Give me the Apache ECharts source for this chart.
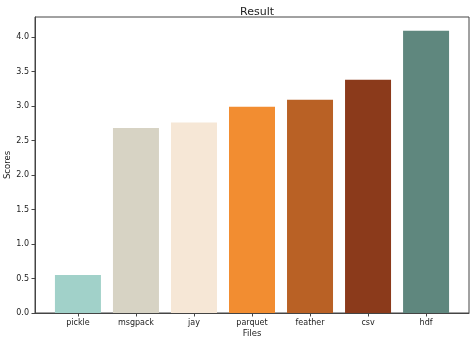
<!DOCTYPE html>
<html>
<head>
<meta charset="utf-8">
<script src="https://cdn.jsdelivr.net/npm/echarts@6/dist/echarts.min.js"></script>
<style>
  html, body { margin: 0; padding: 0; background: #fff; }
  #chart { width: 474px; height: 343px; }
</style>
</head>
<body>
<div id="chart"></div>
<script>
// File formats and their scores
const files = ['pickle', 'msgpack', 'jay', 'parquet', 'feather', 'csv', 'hdf'];
const scores = [0.55, 2.68, 2.76, 2.99, 3.09, 3.38, 4.09];
const barColors = ['#a1d1c9', '#d7d3c4', '#f6e7d6', '#f28d31', '#b96125', '#8b3a1b', '#5f877e'];
const yTicks = [0, 0.5, 1.0, 1.5, 2.0, 2.5, 3.0, 3.5, 4.0];

const positions = files.map((_, i) => i);
const font = 'DejaVu Sans';
const axisColor = '#444';

const chart = echarts.init(document.getElementById('chart'), null, { renderer: 'canvas' });

chart.setOption({
  animation: false,
  title: {
    text: 'Result',
    left: 252, top: 2, textAlign: 'center',
    textStyle: { fontFamily: font, fontSize: 11, fontWeight: 'normal', color: '#222' }
  },
  grid: {
    left: 35, right: 5, top: 17, bottom: 30,
    containLabel: false, outerBoundsMode: 'none',
    show: true, borderColor: axisColor, borderWidth: 1
  },
  xAxis: {
    type: 'value',
    min: -0.74, max: 6.74,
    name: 'Files', nameLocation: 'middle', nameGap: 16, nameMoveOverlap: false,
    nameTextStyle: { fontFamily: font, fontSize: 8.5, color: '#222' },
    splitLine: { show: false },
    axisLine: { show: true, onZero: false, lineStyle: { color: axisColor } },
    axisTick: { show: true, customValues: positions, length: 3.5, lineStyle: { color: axisColor } },
    axisLabel: {
      customValues: positions,
      formatter: v => files[Math.round(v)],
      fontFamily: font, fontSize: 8, color: '#222', margin: 6
    }
  },
  yAxis: {
    type: 'value',
    min: 0, max: 4.29,
    name: 'Scores', nameLocation: 'middle', nameGap: 27, nameRotate: 90, nameMoveOverlap: false,
    nameTextStyle: { fontFamily: font, fontSize: 8.5, color: '#222', verticalAlign: 'middle' },
    splitLine: { show: false },
    axisLine: { show: true, onZero: false, lineStyle: { color: axisColor } },
    axisTick: { show: true, customValues: yTicks, length: 3.5, lineStyle: { color: axisColor } },
    axisLabel: {
      customValues: yTicks,
      formatter: v => v.toFixed(1),
      fontFamily: font, fontSize: 8, color: '#222', margin: 6
    }
  },
  series: [{
    type: 'bar',
    barWidth: 46,
    data: scores.map((s, i) => ({ value: [i, s], itemStyle: { color: barColors[i] } }))
  }]
});
</script>
</body>
</html>
